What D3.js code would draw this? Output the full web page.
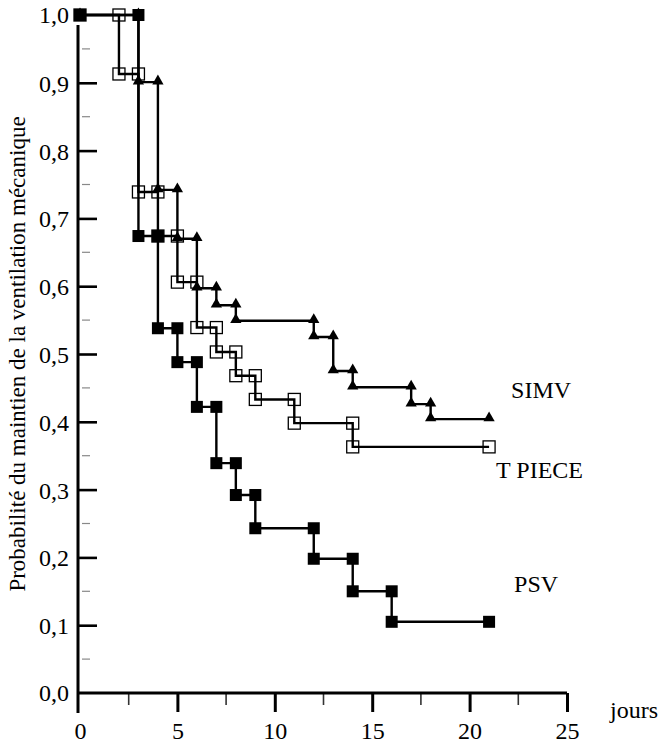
<!DOCTYPE html>
<html>
<head>
<meta charset="utf-8">
<script src="https://d3js.org/d3.v7.min.js"></script>
<style>
  body { margin: 0; background: #fff; }
  svg text { font-family: "Liberation Serif", "Times New Roman", serif; fill: #000; }
</style>
</head>
<body>
<svg id="chart" width="666" height="743"></svg>
<script>
// Kaplan-Meier steps: survival[i] holds from days[i] to days[i+1]
const psvDays = [0, 3, 4, 5, 6, 7, 8, 9, 12, 14, 16, 21];
const psvSurv = [1.0, 0.674, 0.538, 0.488, 0.422, 0.339, 0.292, 0.243, 0.198, 0.150, 0.105];

const tpieceDays = [0, 2, 3, 4, 5, 6, 7, 8, 9, 11, 14, 21];
const tpieceSurv = [1.0, 0.913, 0.739, 0.674, 0.606, 0.539, 0.503, 0.468, 0.433, 0.398, 0.363];

const simvDays = [0, 3, 4, 5, 6, 7, 8, 12, 13, 14, 17, 18, 21];
const simvSurv = [1.0, 0.901, 0.742, 0.670, 0.597, 0.572, 0.549, 0.525, 0.475, 0.451, 0.426, 0.404];

const xTicks = [0, 5, 10, 15, 20, 25];
const yTicks = [0, 0.1, 0.2, 0.3, 0.4, 0.5, 0.6, 0.7, 0.8, 0.9, 1.0];

const svg = d3.select('#chart');

const x = d3.scaleLinear().domain([0, 25]).range([80, 567]);
const y = d3.scaleLinear().domain([0, 1]).range([693, 15]);

const fr = d3.formatLocale({decimal: ',', thousands: ' ', grouping: [3], currency: ['', ' €']});
const fmt = fr.format('.1f');

// axes
const gy = svg.append('g').attr('transform', `translate(${x(0) - 2},0)`)
  .call(d3.axisLeft(y).tickValues(yTicks.filter(v => v > 0 && v < 1)).tickSize(-19).tickPadding(9).tickFormat(fmt));
gy.select('.domain').remove();
gy.selectAll('line').attr('stroke-width', 2.6);
gy.selectAll('text').style('font-size', '24px').attr('dy', '0.35em');

// labels for 0,0 and 1,0 (no tick line)
svg.selectAll('.yend').data([0, 1]).join('text')
  .attr('x', x(0) - 11).attr('y', d => y(d)).attr('dy', '0.35em')
  .attr('text-anchor', 'end').style('font-size', '24px').text(fmt);

// minor y ticks
svg.selectAll('.yminor').data(yTicks.slice(0, -1).map(v => v + 0.05)).join('line')
  .attr('x1', x(0) + 2).attr('x2', x(0) + 10)
  .attr('y1', d => y(d)).attr('y2', d => y(d))
  .attr('stroke', '#888').attr('stroke-width', 1.2);

// y axis line
svg.append('line')
  .attr('x1', x(0) - 2).attr('x2', x(0) - 2)
  .attr('y1', y(1) + 10).attr('y2', y(0) + 20)
  .attr('stroke', '#000').attr('stroke-width', 3);

const gx = svg.append('g').attr('transform', `translate(0,${y(0)})`)
  .call(d3.axisBottom(x).tickValues(xTicks).tickSize(19).tickPadding(10).tickFormat(d3.format('d')));
gx.select('.domain').remove();
gx.selectAll('line').attr('stroke-width', 3);
gx.selectAll('text').style('font-size', '24px');
gx.selectAll('.tick').filter(d => d === 0).select('line').remove();

// minor x ticks
svg.selectAll('.xminor').data(xTicks.slice(0, -1).map(v => v + 2.5)).join('line')
  .attr('x1', d => x(d)).attr('x2', d => x(d))
  .attr('y1', y(0)).attr('y2', y(0) + 12)
  .attr('stroke', '#333').attr('stroke-width', 1.6);

svg.append('line')
  .attr('x1', x(0) - 2).attr('x2', x(25))
  .attr('y1', y(0)).attr('y2', y(0))
  .attr('stroke', '#000').attr('stroke-width', 3);

svg.append('text')
  .attr('x', 610).attr('y', y(0) + 25)
  .style('font-size', '24px').text('jours');

svg.append('text')
  .attr('transform', `translate(25,${(y(0) + y(1)) / 2}) rotate(-90)`)
  .attr('text-anchor', 'middle')
  .style('font-size', '23px')
  .text('Probabilité du maintien de la ventilation mécanique');

// curves
const series = [
  {name: 'T PIECE', days: tpieceDays, surv: tpieceSurv, dx: 7, dy: 31},
  {name: 'SIMV', days: simvDays, surv: simvSurv, dx: 22, dy: -21},
  {name: 'PSV', days: psvDays, surv: psvSurv, dx: 25, dy: -30},
];

const line = d3.line().curve(d3.curveStepAfter).x(d => x(d[0])).y(d => y(d[1]));

series.forEach(s => {
  s.points = s.days.map((d, i) => [d, s.surv[Math.min(i, s.surv.length - 1)]]);
  s.marks = s.surv.flatMap((v, i) => [[s.days[i], v], [s.days[i + 1], v]]);
  svg.append('path').attr('d', line(s.points))
    .attr('fill', 'none').attr('stroke', '#000').attr('stroke-width', 2.4);
});

const [tp, simv, psv] = series;

svg.selectAll('.tp').data(tp.marks).join('rect')
  .attr('x', d => x(d[0]) - 6).attr('y', d => y(d[1]) - 6)
  .attr('width', 12).attr('height', 12)
  .attr('fill', 'none').attr('stroke', '#000').attr('stroke-width', 1.3);

svg.selectAll('.simv').data(simv.marks).join('path')
  .attr('transform', d => `translate(${x(d[0])},${y(d[1]) - 1})`)
  .attr('d', d3.symbol(d3.symbolTriangle, 55))
  .attr('fill', '#000');

svg.selectAll('.psv').data(psv.marks).join('rect')
  .attr('x', d => x(d[0]) - 6).attr('y', d => y(d[1]) - 6)
  .attr('width', 12).attr('height', 12)
  .attr('fill', '#000');

// series labels next to last point
svg.selectAll('.lab').data(series).join('text')
  .attr('x', s => x(s.days[s.days.length - 1]) + s.dx)
  .attr('y', s => y(s.surv[s.surv.length - 1]) + s.dy)
  .style('font-size', '24px')
  .text(s => s.name);
</script>
</body>
</html>
